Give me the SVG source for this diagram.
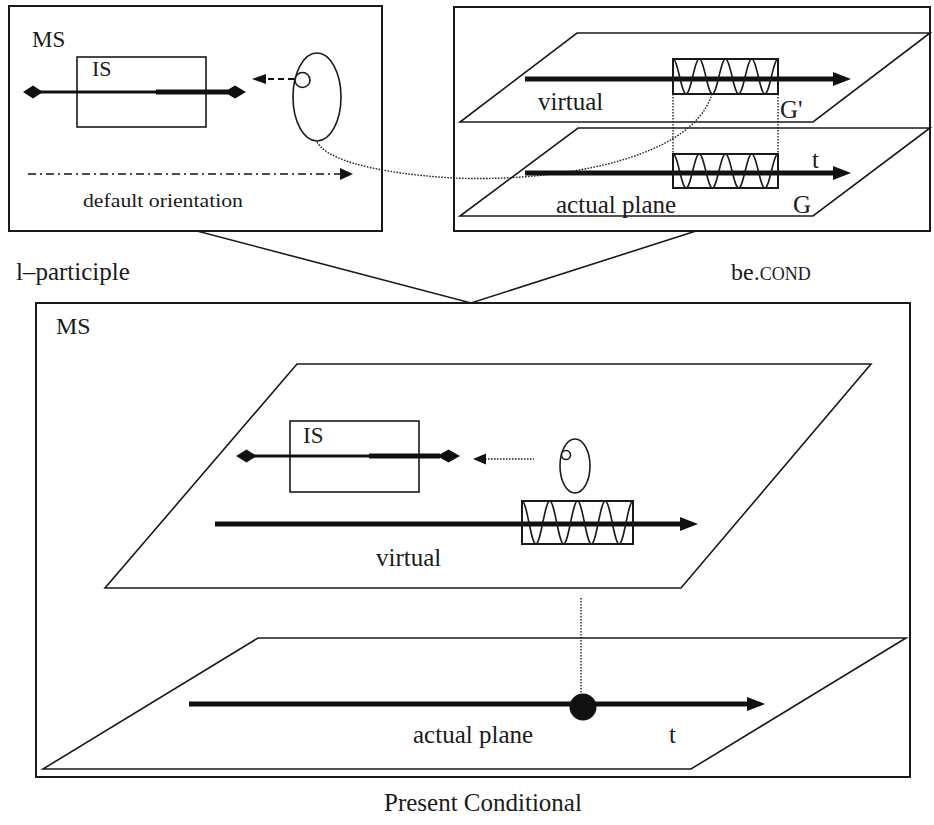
<svg xmlns="http://www.w3.org/2000/svg" xmlns:xlink="http://www.w3.org/1999/xlink" width="934" height="825" viewBox="0 0 934 825" font-family="'Liberation Serif', 'DejaVu Serif', serif">
<style>
.box{fill:none;stroke:#1a1a1a;stroke-width:2}
.plane{fill:none;stroke:#1a1a1a;stroke-width:1.6;stroke-linejoin:miter}
.thin{fill:none;stroke:#1a1a1a;stroke-width:1.6}
.thick{fill:none;stroke:#111;stroke-width:5}
.mid{fill:none;stroke:#111;stroke-width:3}
.dot{fill:none;stroke:#222;stroke-width:1.4;stroke-dasharray:1.6 1.4}
.ink{fill:#111;stroke:none}
.t{font-family:'Liberation Serif','DejaVu Serif',serif;fill:#1a1a1a}
</style>
<defs>
<marker id="ah" markerUnits="userSpaceOnUse" markerWidth="18" markerHeight="14" refX="1" refY="7" orient="auto">
<path d="M0,0 L18,7 L0,14 z" fill="#111"/>
</marker>
<g id="coil">
<rect x="0" y="0" width="100" height="40" fill="none" stroke="#1a1a1a" stroke-width="2" vector-effect="non-scaling-stroke"/>
<path d="M0,0 C4.55,0 7.95,40 12.5,40 C17.05,40 20.45,0 25,0 C29.55,0 32.95,40 37.5,40 C42.05,40 45.45,0 50,0 C54.55,0 57.95,40 62.5,40 C67.05,40 70.45,0 75,0 C79.55,0 82.95,40 87.5,40 C92.05,40 95.45,0 100,0" fill="none" stroke="#1a1a1a" stroke-width="1.6" vector-effect="non-scaling-stroke"/>
</g>
</defs>

<g id="connectors">
<polyline class="thin" points="197,231 471,303 696,231"/>
<path class="dot" d="M317,142 C330,165 400,175 454,178 C540,182 690,165 712,94"/>
</g>

<g id="panel-l-participle">
<rect class="box" x="9" y="6" width="373" height="225"/>
<text class="t" x="32" y="47" font-size="23">MS</text>
<rect class="thin" x="77" y="57" width="129" height="70"/>
<text class="t" x="92" y="76" font-size="22">IS</text>
<line class="mid" x1="40" y1="92" x2="156" y2="92"/>
<line class="thick" x1="156" y1="92" x2="228" y2="92"/>
<polygon class="ink" points="23,92 33,85.5 43,92 33,98.5"/>
<polygon class="ink" points="224,92 235,85.5 246,92 235,98.5"/>
<line x1="268" y1="79" x2="294" y2="79" stroke="#111" stroke-width="2" stroke-dasharray="6 4"/>
<polygon class="ink" points="252,79 266,74 266,84"/>
<ellipse class="thin" cx="317" cy="97" rx="24" ry="44"/>
<circle cx="302.5" cy="80" r="7.5" fill="#fff" stroke="#1a1a1a" stroke-width="1.6"/>
<line x1="28" y1="174" x2="342" y2="174" stroke="#111" stroke-width="1.6" stroke-dasharray="8 4 2 4"/>
<polygon class="ink" points="353,174 340,168 340,180"/>
<text class="t" x="83" y="207" font-size="19" textLength="160" lengthAdjust="spacingAndGlyphs">default orientation</text>
</g>

<g id="panel-be-cond">
<rect class="box" x="454" y="7" width="476" height="224"/>
<polygon class="plane" points="577,33 930,33 813,122 460,122"/>
<polygon class="plane" points="578,128 930,128 813,216 460,216"/>
<line class="dot" x1="673" y1="94" x2="673" y2="154"/>
<line class="dot" x1="778" y1="94" x2="778" y2="154"/>
<line class="thick" x1="525" y1="79" x2="834" y2="79" marker-end="url(#ah)"/>
<line class="thick" x1="525" y1="173" x2="834" y2="173" marker-end="url(#ah)"/>
<use xlink:href="#coil" transform="translate(673,59) scale(1.05,0.875)"/>
<use xlink:href="#coil" transform="translate(673,154) scale(1.05,0.85)"/>
<text class="t" x="538" y="110" font-size="25">virtual</text>
<text class="t" x="780" y="118" font-size="25">G'</text>
<text class="t" x="812" y="168" font-size="25">t</text>
<text class="t" x="556" y="213" font-size="25">actual plane</text>
<text class="t" x="793" y="213" font-size="25">G</text>
</g>

<g id="label-l-participle">
<text class="t" x="16" y="280" font-size="25">l–participle</text>
</g>
<g id="label-be-cond">
<text class="t" x="731" y="280" font-size="24">be.<tspan font-size="18">COND</tspan></text>
</g>

<g id="panel-present-conditional">
<rect class="box" x="36" y="303" width="874" height="474"/>
<text class="t" x="56" y="334" font-size="24">MS</text>
<polygon class="plane" points="297,364 871,364 681,588 105,588"/>
<rect class="thin" x="290" y="421" width="129" height="71"/>
<text class="t" x="303" y="443" font-size="23">IS</text>
<line class="mid" x1="252" y1="456" x2="369" y2="456"/>
<line class="thick" x1="369" y1="456" x2="440" y2="456"/>
<polygon class="ink" points="236,456 246.5,449.5 257,456 246.5,462.5"/>
<polygon class="ink" points="437,456 448.5,449.5 460,456 448.5,462.5"/>
<line class="dot" x1="485" y1="459" x2="534" y2="459"/>
<polygon class="ink" points="473,459 486,453.5 486,464.5"/>
<ellipse class="thin" cx="575" cy="466" rx="15" ry="27"/>
<circle cx="566" cy="455" r="4.5" fill="#fff" stroke="#1a1a1a" stroke-width="1.6"/>
<line class="thick" x1="215" y1="524" x2="681" y2="524" marker-end="url(#ah)"/>
<use xlink:href="#coil" transform="translate(522,501) scale(1.11,1.075)"/>
<text class="t" x="376" y="566" font-size="25">virtual</text>
<line class="dot" x1="581" y1="598" x2="581" y2="694"/>
<polygon class="plane" points="258,638 906,638 691,769 43,769"/>
<line class="thick" x1="189" y1="704" x2="748" y2="704" marker-end="url(#ah)"/>
<circle class="ink" cx="583" cy="707" r="13.5"/>
<text class="t" x="413" y="743" font-size="25">actual plane</text>
<text class="t" x="669" y="743" font-size="25">t</text>
</g>

<g id="caption">
<text class="t" x="384" y="811" font-size="25">Present Conditional</text>
</g>
</svg>
